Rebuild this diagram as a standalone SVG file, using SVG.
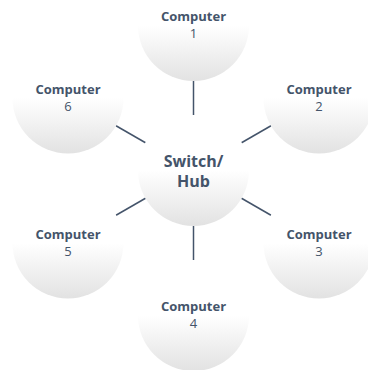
<svg xmlns="http://www.w3.org/2000/svg" width="368" height="370" viewBox="0 0 368 370">
<defs>
<linearGradient id="g" x1="0" y1="0" x2="0" y2="1">
<stop offset="0" stop-color="#ffffff"/>
<stop offset="0.5" stop-color="#ffffff"/>
<stop offset="1" stop-color="#e2e2e2"/>
</linearGradient>
</defs>
<style>
.n{fill:url(#g)}
.t{font-family:"Open Sans",sans-serif;fill:#44546a;text-anchor:middle}
.b{font-weight:bold;font-size:13px}
.r{font-size:13px}
.h{font-weight:bold;font-size:16px}
.c{stroke:#44546a;stroke-width:1.5;fill:none}
</style>
<rect width="368" height="370" fill="#ffffff"/>
<g id="connectors">
<line class="c" x1="193.5" y1="81" x2="193.5" y2="115"/>
<line class="c" x1="193.5" y1="226" x2="193.5" y2="260"/>
<line class="c" x1="116" y1="125.75" x2="145.5" y2="142.75"/>
<line class="c" x1="271" y1="125.75" x2="241.5" y2="142.75"/>
<line class="c" x1="116" y1="215.25" x2="145.5" y2="198.25"/>
<line class="c" x1="271" y1="215.25" x2="241.5" y2="198.25"/>
</g>
<g id="hub"><circle class="n" cx="193.5" cy="170.5" r="55.5"/><text class="t h" x="193.5" y="167">Switch/</text><text class="t h" x="193.5" y="187">Hub</text></g>
<g id="computer1"><circle class="n" cx="193.5" cy="25.5" r="55.5"/><text class="t b" x="193.5" y="21">Computer</text><text class="t r" x="193.5" y="38">1</text></g>
<g id="computer2"><circle class="n" cx="319" cy="98" r="55.5"/><text class="t b" x="319" y="94">Computer</text><text class="t r" x="319" y="111">2</text></g>
<g id="computer3"><circle class="n" cx="319" cy="243" r="55.5"/><text class="t b" x="319" y="239">Computer</text><text class="t r" x="319" y="256">3</text></g>
<g id="computer4"><circle class="n" cx="193.5" cy="315.5" r="55.5"/><text class="t b" x="193.5" y="311">Computer</text><text class="t r" x="193.5" y="328">4</text></g>
<g id="computer5"><circle class="n" cx="68" cy="243" r="55.5"/><text class="t b" x="68" y="239">Computer</text><text class="t r" x="68" y="256">5</text></g>
<g id="computer6"><circle class="n" cx="68" cy="98" r="55.5"/><text class="t b" x="68" y="94">Computer</text><text class="t r" x="68" y="111">6</text></g>
</svg>
